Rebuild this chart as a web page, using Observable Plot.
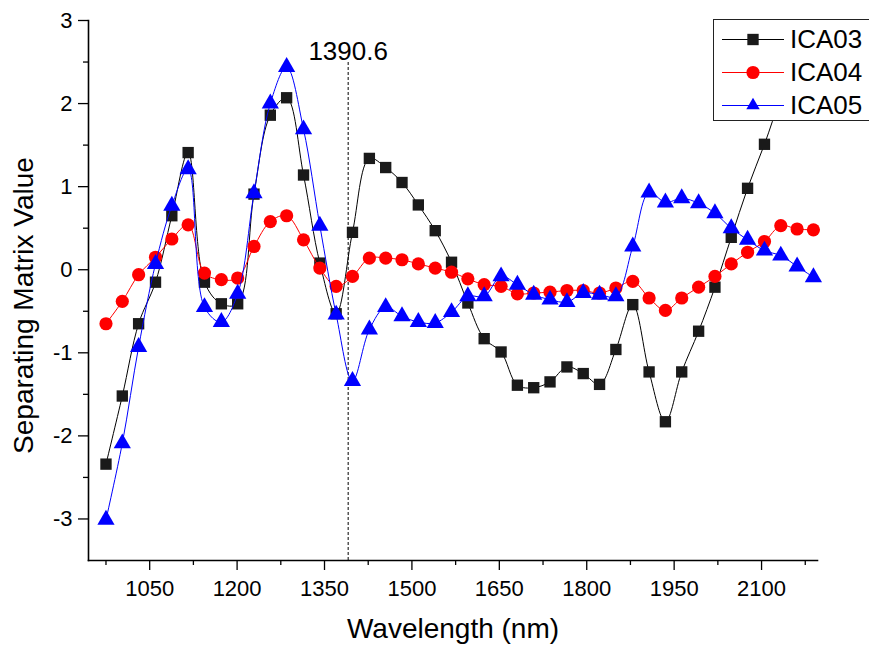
<!DOCTYPE html>
<html>
<head>
<meta charset="utf-8">
<script src="https://cdn.jsdelivr.net/npm/d3@7"></script>
<script src="https://cdn.jsdelivr.net/npm/@observablehq/plot@0.6"></script>
<style>
  html, body { margin: 0; padding: 0; background: #fff; overflow: hidden; }
  #wrap { position: relative; width: 869px; height: 648px; font-family: Arial, "Liberation Sans", sans-serif; }
  #wrap svg.plot { display: block; }
  #legend { position: absolute; left: 713px; top: 19px; width: 170px; height: 102px; background: #fff;
            border: 1.5px solid #222; box-sizing: border-box; }
  #legend .row { position: absolute; left: 8px; height: 33px; display: flex; align-items: center; }
  #legend .row span { font-size: 26px; color: #000; margin-left: 6px; line-height: 33px; }
</style>
</head>
<body>
<div id="wrap"></div>
<script>
// ---- data ----
const wavelength = [975, 1003, 1031, 1060, 1088, 1116, 1144, 1173, 1201, 1229, 1257, 1285, 1314, 1342, 1370,
  1398, 1427, 1455, 1483, 1511, 1540, 1568, 1596, 1624, 1653, 1681, 1709, 1737, 1766, 1794, 1822, 1850,
  1879, 1907, 1935, 1963, 1992, 2020, 2048, 2076, 2105, 2133, 2161, 2189];
const ica03 = [-2.34, -1.52, -0.65, -0.15, 0.65, 1.41, -0.15, -0.41, -0.41, 0.91, 1.86, 2.07, 1.14, 0.08, -0.53,
  0.45, 1.34, 1.23, 1.05, 0.78, 0.47, 0.09, -0.40, -0.83, -0.99, -1.39, -1.42, -1.35, -1.17, -1.25, -1.38, -0.96,
  -0.42, -1.23, -1.83, -1.23, -0.74, -0.21, 0.39, 0.98, 1.51, 2.05, 2.40, 2.60];
const ica04 = [-0.65, -0.38, -0.06, 0.15, 0.37, 0.54, -0.04, -0.12, -0.10, 0.28, 0.58, 0.65, 0.36, 0.02, -0.20,
  -0.08, 0.14, 0.14, 0.12, 0.07, 0.02, -0.03, -0.11, -0.18, -0.20, -0.29, -0.28, -0.27, -0.25, -0.25, -0.28, -0.22,
  -0.14, -0.34, -0.49, -0.34, -0.21, -0.08, 0.07, 0.21, 0.34, 0.53, 0.49, 0.48];
const ica05 = [-3.01, -2.09, -0.93, 0.07, 0.77, 1.21, -0.45, -0.63, -0.29, 0.92, 2.00, 2.44, 1.69, 0.53, -0.54,
  -1.34, -0.72, -0.45, -0.56, -0.63, -0.64, -0.51, -0.32, -0.32, -0.08, -0.18, -0.30, -0.36, -0.39, -0.28, -0.30, -0.32,
  0.28, 0.93, 0.81, 0.86, 0.80, 0.68, 0.50, 0.36, 0.23, 0.17, 0.04, -0.09];

const seriesNames = ["ICA03", "ICA04", "ICA05"];
const seriesColors = ["#000000", "#ff0000", "#0000ff"];
const markerFill = ["#1a1a1a", "#ff0000", "#0000ff"];
const seriesSymbols = ["square", "circle", "triangle"];
const xTicks = [1050, 1200, 1350, 1500, 1650, 1800, 1950, 2100];
const xMinorTicks = [975, 1125, 1275, 1425, 1575, 1725, 1875, 2025, 2175];
const yTicks = [-3, -2, -1, 0, 1, 2, 3];
const yMinorTicks = [-2.5, -1.5, -0.5, 0.5, 1.5, 2.5];
const xDomain = [945, 2196];
const yDomain = [-3.5, 3];
const peakWavelength = 1390.6;
const peakLineTop = 2.5;
const xTitle = "Wavelength (nm)";
const yTitle = "Separating Matrix Value";

// ---- build ----
const seriesValues = [ica03, ica04, ica05];
const markR = [6.4, 6.6, 6.4];
const rows = seriesValues.map(vals => wavelength.map((w, i) => ({w, v: vals[i]})));

const font = 'Arial, "Liberation Sans", sans-serif';
const marks = [
  Plot.axisX({ticks: xTicks, tickSize: 10, tickPadding: 10, fontSize: 22, label: null, tickFormat: d => String(d), stroke: "#000", strokeWidth: 1.3}),
  Plot.axisX({ticks: xMinorTicks, tickSize: 5, label: null, tickFormat: () => "", stroke: "#000", strokeWidth: 1.3}),
  Plot.axisY({ticks: yTicks, tickSize: 10, tickPadding: 6, fontSize: 22, label: null, tickFormat: d => String(d), stroke: "#000", strokeWidth: 1.3}),
  Plot.axisY({ticks: yMinorTicks, tickSize: 5, label: null, tickFormat: () => "", stroke: "#000", strokeWidth: 1.3}),
  Plot.frame({anchor: "bottom", stroke: "#000", strokeWidth: 1.6}),
  Plot.frame({anchor: "left", stroke: "#000", strokeWidth: 1.6}),
  Plot.ruleX([peakWavelength], {y1: yDomain[0], y2: peakLineTop, stroke: "#000", strokeWidth: 1, strokeDasharray: "3,2"}),
  Plot.text([peakWavelength], {x: d => d, text: d => String(d), frameAnchor: "top", dy: 21, fontSize: 26, fill: "#000"}),
  Plot.text([xTitle], {frameAnchor: "bottom", dy: 77, fontSize: 28, fill: "#000"}),
  Plot.text([yTitle], {frameAnchor: "left", textAnchor: "middle", dx: -64, dy: 15, rotate: -90, fontSize: 28, fill: "#000"})
];
rows.forEach((data, i) => {
  marks.push(Plot.line(data, {x: "w", y: "v", stroke: seriesColors[i], strokeWidth: 1, curve: "catmull-rom"}));
  marks.push(Plot.dot(data, {x: "w", y: "v", symbol: () => seriesSymbols[i], r: markR[i], fill: markerFill[i], stroke: "none"}));
});

const chart = Plot.plot({
  width: 869, height: 648,
  marginLeft: 88, marginRight: 52, marginTop: 20, marginBottom: 88,
  style: {fontFamily: font, fontSize: "22px", color: "#000", background: "#fff"},
  x: {domain: xDomain},
  y: {domain: yDomain},
  symbol: {type: "identity"},
  marks
});
chart.classList.add("plot");
const wrap = document.getElementById("wrap");
wrap.appendChild(chart);

// ---- legend ----
const legend = document.createElement("div");
legend.id = "legend";
const rowTops = [2.5, 36, 68.5];
seriesNames.forEach((name, i) => {
  const row = document.createElement("div");
  row.className = "row";
  row.style.top = rowTops[i] + "px";
  const ns = "http://www.w3.org/2000/svg";
  const sw = document.createElementNS(ns, "svg");
  sw.setAttribute("width", 62); sw.setAttribute("height", 33);
  const ln = document.createElementNS(ns, "line");
  ln.setAttribute("x1", 0); ln.setAttribute("x2", 62); ln.setAttribute("y1", 16.5); ln.setAttribute("y2", 16.5);
  ln.setAttribute("stroke", seriesColors[i]); ln.setAttribute("stroke-width", 1);
  sw.appendChild(ln);
  const p = document.createElementNS(ns, "path");
  const symType = [d3.symbolSquare, d3.symbolCircle, d3.symbolTriangle2][i];
  p.setAttribute("d", d3.symbol(symType, Math.PI * markR[i] * markR[i])());
  p.setAttribute("transform", "translate(31,16.5)");
  p.setAttribute("fill", markerFill[i]);
  sw.appendChild(p);
  row.appendChild(sw);
  const t = document.createElement("span");
  t.textContent = name;
  row.appendChild(t);
  legend.appendChild(row);
});
wrap.appendChild(legend);
</script>
</body>
</html>
